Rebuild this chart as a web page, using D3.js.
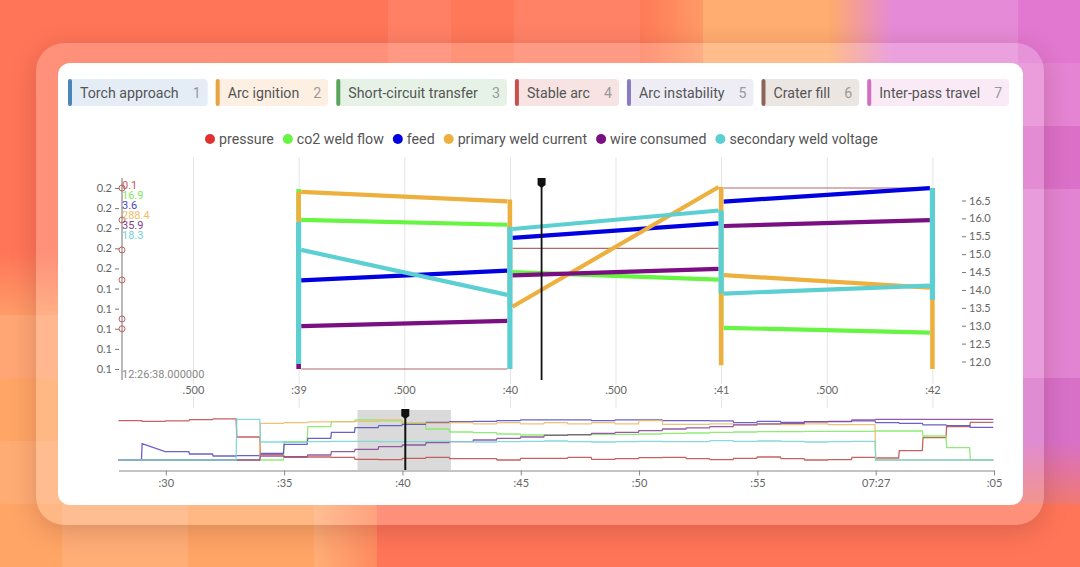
<!DOCTYPE html>
<html>
<head>
<meta charset="utf-8">
<script src="https://cdnjs.cloudflare.com/ajax/libs/d3/7.8.5/d3.min.js"></script>
<style>
  html, body { margin: 0; padding: 0; width: 1080px; height: 567px; overflow: hidden; background: #ff7558; }
  svg { position: absolute; left: 0; top: 0; }
  #frame { position: absolute; left: 36px; top: 43px; width: 1008px; height: 482px; border-radius: 28px;
           background: rgba(255,255,255,.2); box-shadow: 0 6px 26px rgba(90,30,30,.22); }
  #card { position: absolute; left: 58px; top: 63px; width: 965px; height: 442px; border-radius: 12px; background: #fff; }
  text { font-family: Roboto, sans-serif; }
  .tick text { fill: #666; font-size: 11px; font-family: Lato, sans-serif; }
</style>
</head>
<body>
<svg id="bg" width="1080" height="567"></svg>
<div id="frame"></div>
<div id="card"></div>
<svg id="chart" width="1080" height="567"></svg>
<script>
// background tiles, only the ones around the card can be seen
var tileTop = ['#ff7558','#ff7558','#ff7558','#ff7558','#ff7558','#ff7558','#ff7558','#ff8065','#ff7859','#ff8267','#ff8267','url(#gTop1)','#ffad70','#ffad70','url(#gTop2)','#e58ad6','#e58ad6','#e278d0'];
var tileBottom = ['#ffa566','#ffa566','#ffae76','#ffae76','#ffa566','#ffa566','url(#gBot)','#ff7558','#ff7558','#ff7558','#ff7558','#ff7558','#ff7558','#ff7558','#ff7558','#ff7558','#ff7558','#ff7558'];
var tileLeft = ['#ff7558','#ff7558','#ff7558','#ff7558','url(#gLeft)','#ffa674','#ffa566','#ffac74','#ffa566'];
var tileRight = ['#e278d0','#e584d2','#dc70c8','#e384d2','#e384d2','#e384d2','#d870c8','url(#gRight)','#ff7558'];

// section chips
var chipLabels = ['Torch approach','Arc ignition','Short-circuit transfer','Stable arc','Arc instability','Crater fill','Inter-pass travel'];
var chipNumbers = ['1','2','3','4','5','6','7'];
var chipColors = ['#4a86b8','#e8a33d','#58a55c','#c94f4f','#8a7cc0','#8d6458','#d070c0'];
var chipFills = ['#e4edf5','#fdf0e3','#e6f2e6','#f7e3e1','#eeecf5','#ece6e3','#f9eaf6'];

// series
var names = ['pressure','co2 weld flow','feed','primary weld current','wire consumed','secondary weld voltage'];
var colors = ['#e03030','#66f542','#0000e0','#edb03f','#7a0f82','#5ccfd2'];
var hoverLabels = ['0.1','16.9','3.6','288.4','35.9','18.3'];
var hoverColors = ['#c25a5a','#7eea5e','#4a44c4','#efbe68','#84408e','#6cd4d6'];
var hoverTime = 40.15;
var hoverMarks = [0.19,0.1741,0.1592,0.1443,0.1249,0.12];

// main view, one segment per second
var seconds = [39,40,41];
var edges = [39,40,41,42];
var pressureStart = [0.10,0.16,0.19], pressureEnd = [0.10,0.16,0.19];
var co2Start = [17.67,16.91,16.10], co2End = [17.60,16.80,16.03];
var feedStart = [3.23,3.58,3.88], feedEnd = [3.31,3.70,3.99];
var currentStart = [298.5,286.5,289.8], currentEnd = [297.5,299,288.5];
var wireStart = [34.32,35.88,37.40], wireEnd = [34.48,36.08,37.58];
var voltStart = [17.60,18.23,16.28], voltEnd = [16.24,18.79,16.52];

// vertical jumps at each second, [low, high]
var co2Jumps = [[17.67,18.12],[16.91,17.60],[16.10,16.80],[16.03,16.03]];
var currentJumps = [[280.5,298.5],[286.5,297.7],[280.4,299],[280,288.5]];
var wireJumps = [[33,33.3]];
var voltJumps = [[14.15,18.44],[14,18.29],[16.28,18.79],[16.09,19.47]];

var co2Domain = [15.5,18.15], feedDomain = [2.5,4], currentDomain = [280,299], wireDomain = [33,38.6], voltDomain = [14,19.5];

var pressureTicks = [0.19,0.18,0.17,0.16,0.15,0.14,0.13,0.12,0.11,0.10];
var pressureLabels = ['0.2','0.2','0.2','0.2','0.2','0.1','0.1','0.1','0.1','0.1'];
var rightTicks = [12,12.5,13,13.5,14,14.5,15,15.5,16,16.5];
var mainTicks = [38.5,39,39.5,40,40.5,41,41.5,42];
var mainTickLabels = ['.500',':39','.500',':40','.500',':41','.500',':42'];

// overview, height of each trace per second from :28 on
var ovStart = 28;
var ovPressure = [118,116,117,121,123,69,17,8,9,8,2,1,5,8,4,4,0,5,5,8,2,4,7,8,4,1,5,9,4,0,1,8,6,28,67,100,113];
var ovCo2 = [0,0,0,0,0,0,0,55,100,115,120,117,108,93,84,82,78,75,76,75,77,77,78,80,81,83,84,85,85,86,86,86,87,87,72,37,0];
var ovFeed = [0,49,25,18,12,13,20,47,65,83,97,103,107,113,115,116,118,120,120,120,118,120,120,118,118,117,112,116,113,115,115,117,112,110,105,103,98];
var ovCurrent = [0,0,0,0,0,0,110,112,114,115,116,120,112,110,112,108,112,108,112,108,112,108,118,107,107,108,105,107,106,108,106,106,0,0,0,0,0];
var ovWire = [0,0,0,0,0,0,12,10,15,25,32,40,45,52,55,60,65,69,74,76,80,83,88,93,96,100,105,108,110,114,116,120,122,122,122,122,122];
var ovVolt = [0,0,0,0,0,122,54,53,55,56,56,55,55,56,55,54,55,56,57,55,54,55,56,55,55,58,56,57,56,54,55,56,0,0,0,0,0];
var ovFeedRamp = {29:25};
var ovColors = ['#c25050','#84ea68','#5a50c4','#eebb66','#8a4a9a','#78d6d8'];
var ovTicks = [30,35,40,45,50,55,60,65];
var ovTickLabels = [':30',':35',':40',':45',':50',':55','07:27',':05'];
var brushRange = [38.1,42.05];

// ---------- background ----------
var bg = d3.select('#bg');
var defs = bg.append('defs');
function gradient(id, c0, c1, vertical) {
  var g = defs.append('linearGradient').attr('id',id)
    .attr('x2', vertical ? 0 : 1).attr('y2', vertical ? 1 : 0);
  g.append('stop').attr('offset',0).attr('stop-color',c0);
  g.append('stop').attr('offset',1).attr('stop-color',c1);
}
gradient('gTop1','#ff7a58','#ff9a66');
gradient('gTop2','#ffab6c','#e58ad6');
gradient('gBot','#ffae76','#ff8a60');
gradient('gLeft','#ff7558','#ff9c68',true);
gradient('gRight','#d870c8','#f07a70',true);

tileTop.forEach(function(c,i) {
  d3.range(9).forEach(function(r) {
    // the bottom row sits on a slightly different column offset
    var fill = r < 8 ? c : tileBottom[i];
    if (i < 2) fill = tileLeft[r];
    if (i == 17) fill = tileRight[r];
    bg.append('rect')
      .attr('x', (r < 8 ? -53 : -64) + i*63).attr('y', r*63)
      .attr('width', 63.5).attr('height', 63.5)
      .attr('fill', fill);
  });
});

// ---------- chart ----------
var svg = d3.select('#chart');

// chips
var chipX = 68;
chipLabels.forEach(function(label,i) {
  var g = svg.append('g').attr('transform','translate('+chipX+',79)');
  var r = g.append('rect').attr('y',0).attr('height',27).attr('rx',4).attr('fill',chipFills[i]);
  g.append('rect').attr('width',4).attr('height',27).attr('rx',2).attr('fill',chipColors[i]);
  var t = g.append('text').attr('x',12).attr('y',19).attr('font-size',14.2).attr('fill','#555').text(label);
  var tw = t.node().getComputedTextLength();
  g.append('text').attr('x',12+tw+14).attr('y',19).attr('font-size',14.2).attr('fill','#999').text(chipNumbers[i]);
  var w = 12+tw+14+7+8;
  r.attr('width',w);
  chipX += w+8;
});

// legend
var legend = svg.append('g').attr('transform','translate(205,139)');
var legendX = 5;
names.forEach(function(n,i) {
  legend.append('circle').attr('cx',legendX).attr('cy',0).attr('r',5).attr('fill',colors[i]);
  var t = legend.append('text').attr('x',legendX+9).attr('y',5).attr('font-size',14.2).attr('fill','#555').text(n);
  legendX += 9 + t.node().getComputedTextLength() + 14;
});

// main scales
var yTop = 187, yBottom = 369;
var x = d3.scaleLinear().domain([38.164,42.14]).range([122,962]);
var yPressure = d3.scaleLinear().domain([0.10,0.19]).range([369,188]);
var yRight = d3.scaleLinear().domain([12,16.5]).range([361.5,200.5]);
var yCo2 = d3.scaleLinear().domain(co2Domain).range([yBottom,yTop]);
var yFeed = d3.scaleLinear().domain(feedDomain).range([yBottom,yTop]);
var yCurrent = d3.scaleLinear().domain(currentDomain).range([yBottom,yTop]);
var yWire = d3.scaleLinear().domain(wireDomain).range([yBottom,yTop]);
var yVolt = d3.scaleLinear().domain(voltDomain).range([yBottom,yTop]);

// grid + time labels
var xAxis = svg.append('g').attr('transform','translate(0,157)')
  .call(d3.axisBottom(x).tickValues(mainTicks).tickSize(251)
    .tickFormat(function(d,i) { return mainTickLabels[i]; }));
xAxis.select('.domain').remove();
xAxis.selectAll('.tick line').attr('stroke','#e4e4e4');
xAxis.selectAll('.tick text').attr('y',229)
  .attr('stroke','#fff').attr('stroke-width',4).attr('paint-order','stroke');

// left axis
var leftAxis = svg.append('g').attr('transform','translate(119,0)')
  .call(d3.axisLeft(yPressure).tickValues(pressureTicks).tickSize(4).tickPadding(3)
    .tickFormat(function(d,i) { return pressureLabels[i]; }));
leftAxis.select('.domain').remove();
leftAxis.selectAll('.tick line').attr('stroke','#777');
svg.append('line').attr('x1',122).attr('x2',122).attr('y1',178).attr('y2',380).attr('stroke','#8a8a8a').attr('stroke-width',1.2);

// right axis
var rightAxis = svg.append('g').attr('transform','translate(962,0)')
  .call(d3.axisRight(yRight).tickValues(rightTicks).tickSize(4).tickPadding(3).tickFormat(d3.format('.1f')));
rightAxis.select('.domain').remove();
rightAxis.selectAll('.tick line').attr('stroke','#777');

// main traces
var line = d3.line().x(function(d) { return x(d[0]); }).y(function(d) { return d[1]; });

function jumps(vals, y, color, width) {
  vals.forEach(function(v,i) {
    if (v[0] == v[1]) return;
    svg.append('path').attr('d', line([[edges[i],y(v[0])],[edges[i],y(v[1])]]))
      .attr('stroke',color).attr('stroke-width',width).attr('fill','none');
  });
}
function segments(start, end, y, color, width) {
  seconds.forEach(function(s,i) {
    svg.append('path').attr('d', line([[s+0.012,y(start[i])],[s+0.988,y(end[i])]]))
      .attr('stroke',color).attr('stroke-width',width).attr('fill','none');
  });
}
segments(pressureStart, pressureEnd, yPressure, '#b06a6a', 1.2);
jumps(co2Jumps, yCo2, colors[1], 4.6);
segments(co2Start, co2End, yCo2, colors[1], 4.2);
segments(feedStart, feedEnd, yFeed, colors[2], 4.2);
jumps(currentJumps, yCurrent, colors[3], 4.6);
segments(currentStart, currentEnd, yCurrent, colors[3], 4.2);
jumps(wireJumps, yWire, colors[4], 4.6);
segments(wireStart, wireEnd, yWire, colors[4], 4.2);
jumps(voltJumps, yVolt, colors[5], 5.2);
segments(voltStart, voltEnd, yVolt, colors[5], 4.2);

// cursor
function cursor(px, top, bottom, width) {
  svg.append('line').attr('x1',px).attr('x2',px).attr('y1',top+6).attr('y2',bottom)
    .attr('stroke','#111').attr('stroke-width',width);
  svg.append('path').attr('transform','translate('+px+','+top+')')
    .attr('d','M-4,0 H4 V7 L0,10 L-4,7 Z').attr('fill','#111');
}
cursor(x(hoverTime),178,380,1.8);

// hover read-out on the left axis
svg.selectAll('circle.mark').data(hoverMarks).enter().append('circle')
  .attr('class','mark').attr('cx',122).attr('cy',function(d) { return yPressure(d); })
  .attr('r',3).attr('fill','none').attr('stroke','#c06060').attr('stroke-width',1);
hoverLabels.forEach(function(l,i) {
  svg.append('text').attr('x',122).attr('y',189+i*10).attr('font-size',11)
    .attr('fill',hoverColors[i]).text(l);
});
svg.append('text').attr('x',122).attr('y',378).attr('font-size',11).attr('fill','#888').text('12:26:38.000000');

// overview
var ovX = d3.scaleLinear().domain([ovStart,65]).range([118.5,994]);
var ovY = d3.scaleLinear().domain([0,122]).range([460,419.3]);

svg.append('rect').attr('x',ovX(brushRange[0])).attr('y',410)
  .attr('width',ovX(brushRange[1])-ovX(brushRange[0])).attr('height',60)
  .attr('fill','#dadada');

function overview(vals, color, ramp) {
  var pts = [];
  vals.forEach(function(v,i) {
    var t = ovStart+i;
    pts.push([t,v]);
    pts.push([t+0.97, ramp && ramp[t] !== undefined ? ramp[t] : v]);
  });
  svg.append('path')
    .attr('d', d3.line().x(function(d) { return ovX(d[0]); }).y(function(d) { return ovY(d[1]); })(pts))
    .attr('fill','none').attr('stroke',color).attr('stroke-width',1.3).attr('stroke-opacity',.9);
}
overview(ovPressure, ovColors[0]);
overview(ovCo2, ovColors[1]);
overview(ovFeed, ovColors[2], ovFeedRamp);
overview(ovCurrent, ovColors[3]);
overview(ovWire, ovColors[4]);
overview(ovVolt, ovColors[5]);

var ovAxis = svg.append('g').attr('transform','translate(0,470.5)')
  .call(d3.axisBottom(ovX).tickValues(ovTicks).tickSize(5).tickSizeOuter(0).tickPadding(4)
    .tickFormat(function(d,i) { return ovTickLabels[i]; }));
ovAxis.select('.domain').attr('stroke','#888').attr('stroke-width',1.2);
ovAxis.selectAll('.tick line').attr('stroke','#888');

cursor(ovX(hoverTime-0.03),409,470,2);
</script>
</body>
</html>
